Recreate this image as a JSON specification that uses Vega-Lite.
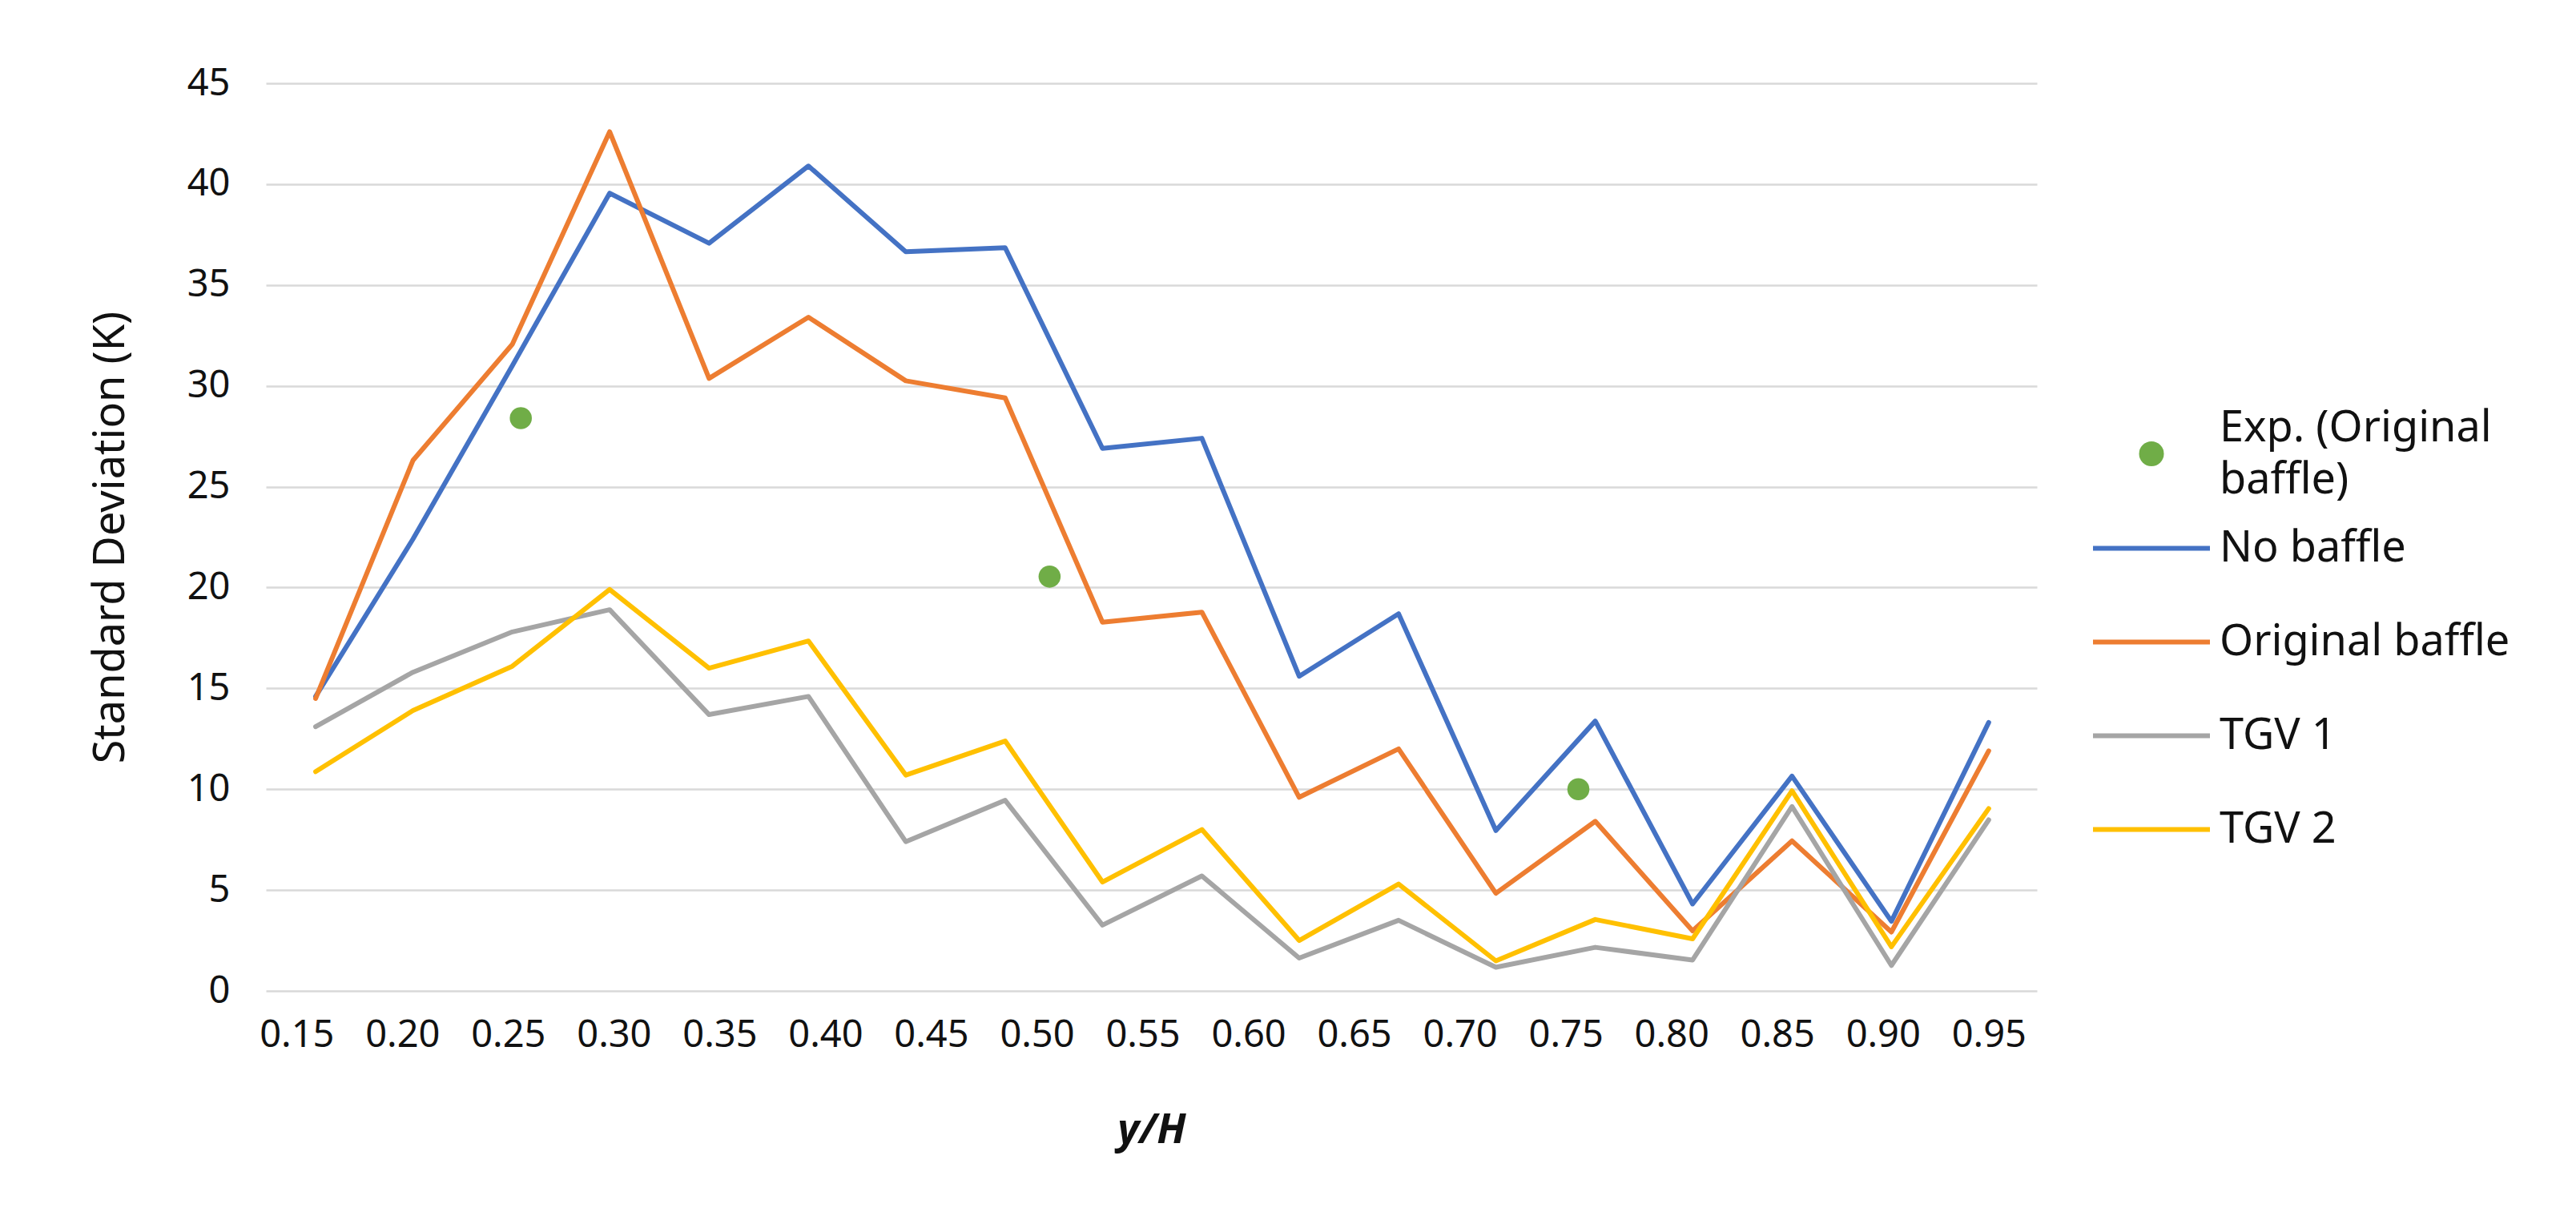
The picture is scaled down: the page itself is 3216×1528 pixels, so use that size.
{
  "$schema": "https://vega.github.io/schema/vega-lite/v6.json",
  "width": 2211,
  "height": 1133,
  "autosize": {"type": "none"},
  "padding": {"left": 332, "top": 104, "right": 673, "bottom": 291},
  "background": "white",
  "config": {
    "view": {"stroke": null},
    "font": "Noto Sans"
  },
  "data": {
    "values": [
      {"s": "No baffle", "x": 0.159, "v": 14.6},
      {"s": "No baffle", "x": 0.205, "v": 22.4},
      {"s": "No baffle", "x": 0.252, "v": 31.0},
      {"s": "No baffle", "x": 0.298, "v": 39.55},
      {"s": "No baffle", "x": 0.345, "v": 37.07},
      {"s": "No baffle", "x": 0.392, "v": 40.9},
      {"s": "No baffle", "x": 0.438, "v": 36.65},
      {"s": "No baffle", "x": 0.485, "v": 36.85},
      {"s": "No baffle", "x": 0.531, "v": 26.9},
      {"s": "No baffle", "x": 0.578, "v": 27.4},
      {"s": "No baffle", "x": 0.624, "v": 15.6},
      {"s": "No baffle", "x": 0.671, "v": 18.7},
      {"s": "No baffle", "x": 0.717, "v": 7.95},
      {"s": "No baffle", "x": 0.764, "v": 13.38},
      {"s": "No baffle", "x": 0.810, "v": 4.31},
      {"s": "No baffle", "x": 0.857, "v": 10.65},
      {"s": "No baffle", "x": 0.904, "v": 3.45},
      {"s": "No baffle", "x": 0.950, "v": 13.31},
      {"s": "Original baffle", "x": 0.159, "v": 14.5},
      {"s": "Original baffle", "x": 0.205, "v": 26.3},
      {"s": "Original baffle", "x": 0.252, "v": 32.06},
      {"s": "Original baffle", "x": 0.298, "v": 42.6},
      {"s": "Original baffle", "x": 0.345, "v": 30.37},
      {"s": "Original baffle", "x": 0.392, "v": 33.4},
      {"s": "Original baffle", "x": 0.438, "v": 30.25},
      {"s": "Original baffle", "x": 0.485, "v": 29.4},
      {"s": "Original baffle", "x": 0.531, "v": 18.28},
      {"s": "Original baffle", "x": 0.578, "v": 18.78},
      {"s": "Original baffle", "x": 0.624, "v": 9.6},
      {"s": "Original baffle", "x": 0.671, "v": 12.0},
      {"s": "Original baffle", "x": 0.717, "v": 4.84},
      {"s": "Original baffle", "x": 0.764, "v": 8.41},
      {"s": "Original baffle", "x": 0.810, "v": 2.98},
      {"s": "Original baffle", "x": 0.857, "v": 7.44},
      {"s": "Original baffle", "x": 0.904, "v": 2.92},
      {"s": "Original baffle", "x": 0.950, "v": 11.9},
      {"s": "TGV 1", "x": 0.159, "v": 13.1},
      {"s": "TGV 1", "x": 0.205, "v": 15.8},
      {"s": "TGV 1", "x": 0.252, "v": 17.8},
      {"s": "TGV 1", "x": 0.298, "v": 18.9},
      {"s": "TGV 1", "x": 0.345, "v": 13.7},
      {"s": "TGV 1", "x": 0.392, "v": 14.6},
      {"s": "TGV 1", "x": 0.438, "v": 7.4},
      {"s": "TGV 1", "x": 0.485, "v": 9.45},
      {"s": "TGV 1", "x": 0.531, "v": 3.26},
      {"s": "TGV 1", "x": 0.578, "v": 5.7},
      {"s": "TGV 1", "x": 0.624, "v": 1.63},
      {"s": "TGV 1", "x": 0.671, "v": 3.5},
      {"s": "TGV 1", "x": 0.717, "v": 1.17},
      {"s": "TGV 1", "x": 0.764, "v": 2.16},
      {"s": "TGV 1", "x": 0.810, "v": 1.53},
      {"s": "TGV 1", "x": 0.857, "v": 9.14},
      {"s": "TGV 1", "x": 0.904, "v": 1.26},
      {"s": "TGV 1", "x": 0.950, "v": 8.48},
      {"s": "TGV 2", "x": 0.159, "v": 10.87},
      {"s": "TGV 2", "x": 0.205, "v": 13.9},
      {"s": "TGV 2", "x": 0.252, "v": 16.1},
      {"s": "TGV 2", "x": 0.298, "v": 19.9},
      {"s": "TGV 2", "x": 0.345, "v": 16.0},
      {"s": "TGV 2", "x": 0.392, "v": 17.35},
      {"s": "TGV 2", "x": 0.438, "v": 10.7},
      {"s": "TGV 2", "x": 0.485, "v": 12.39},
      {"s": "TGV 2", "x": 0.531, "v": 5.4},
      {"s": "TGV 2", "x": 0.578, "v": 8.0},
      {"s": "TGV 2", "x": 0.624, "v": 2.5},
      {"s": "TGV 2", "x": 0.671, "v": 5.3},
      {"s": "TGV 2", "x": 0.717, "v": 1.49},
      {"s": "TGV 2", "x": 0.764, "v": 3.54},
      {"s": "TGV 2", "x": 0.810, "v": 2.58},
      {"s": "TGV 2", "x": 0.857, "v": 9.92},
      {"s": "TGV 2", "x": 0.904, "v": 2.19},
      {"s": "TGV 2", "x": 0.950, "v": 9.04},
      {"s": "Exp. (Original baffle)", "x": 0.256, "v": 28.4},
      {"s": "Exp. (Original baffle)", "x": 0.506, "v": 20.54},
      {"s": "Exp. (Original baffle)", "x": 0.756, "v": 10.0}
    ]
  },
  "encoding": {
    "x": {
      "field": "x",
      "type": "quantitative",
      "scale": {"domain": [0.1355, 0.9728], "nice": false, "zero": false},
      "axis": {
        "values": [0.15, 0.2, 0.25, 0.3, 0.35, 0.4, 0.45, 0.5, 0.55, 0.6, 0.65, 0.7, 0.75, 0.8, 0.85, 0.9, 0.95],
        "format": ".2f",
        "grid": false,
        "domain": false,
        "ticks": false,
        "tickSize": 0,
        "labelPadding": 32,
        "labelFontSize": 47,
        "labelColor": "#111111",
        "labelFlush": false,
        "labelOverlap": false,
        "title": "y/H",
        "titleFontSize": 52,
        "titleFontWeight": "bold",
        "titleFontStyle": "italic",
        "titleColor": "#111111",
        "titlePadding": 70
      }
    },
    "y": {
      "field": "v",
      "type": "quantitative",
      "scale": {"domain": [0, 45], "nice": false},
      "axis": {
        "values": [0, 5, 10, 15, 20, 25, 30, 35, 40, 45],
        "grid": true,
        "gridColor": "#D9D9D9",
        "gridWidth": 2.5,
        "domain": false,
        "ticks": false,
        "tickSize": 0,
        "labelPadding": 45,
        "labelFontSize": 47,
        "labelColor": "#111111",
        "title": "Standard Deviation (K)",
        "titleFontSize": 54,
        "titleFontWeight": "normal",
        "titleColor": "#111111",
        "titlePadding": 68
      }
    }
  },
  "layer": [
    {
      "transform": [{"filter": "datum.s !== 'Exp. (Original baffle)'"}],
      "mark": {"type": "line", "strokeWidth": 6, "strokeJoin": "round", "strokeCap": "round"},
      "encoding": {
        "color": {
          "field": "s",
          "type": "nominal",
          "scale": {
            "domain": ["No baffle", "Original baffle", "TGV 1", "TGV 2"],
            "range": ["#4472C4", "#ED7D31", "#A5A5A5", "#FFC000"]
          },
          "legend": {
            "title": null,
            "orient": "none",
            "legendX": 2278,
            "legendY": 522,
            "padding": 0,
            "clipHeight": 117,
            "rowPadding": 0,
            "symbolType": "stroke",
            "symbolSize": 21316,
            "symbolStrokeWidth": 6,
            "labelFontSize": 54,
            "labelColor": "#111111",
            "labelOffset": 9,
            "labelLimit": 600
          }
        }
      }
    },
    {
      "transform": [{"filter": "datum.s === 'Exp. (Original baffle)'"}],
      "mark": {"type": "point", "filled": true, "size": 760, "opacity": 1, "shape": "circle"},
      "encoding": {
        "fill": {
          "field": "s",
          "type": "nominal",
          "scale": {
            "domain": ["Exp. (Original baffle)"],
            "range": ["#70AD47"]
          },
          "legend": {
            "title": null,
            "orient": "none",
            "legendX": 2327,
            "legendY": 404,
            "padding": 0,
            "clipHeight": 117,
            "rowPadding": 0,
            "symbolType": "circle",
            "symbolSize": 961,
            "symbolStrokeWidth": 0,
            "symbolOpacity": 1,
            "labelFontSize": 54,
            "labelColor": "#111111",
            "labelOffset": 58,
            "labelLimit": 600,
            "labelExpr": "datum.label === 'Exp. (Original baffle)' ? ['Exp. (Original', 'baffle)'] : datum.label",
            "encode": {
              "labels": {
                "update": {
                  "lineHeight": {"value": 65},
                  "dy": {"value": -32}
                }
              }
            }
          }
        }
      }
    }
  ]
}
